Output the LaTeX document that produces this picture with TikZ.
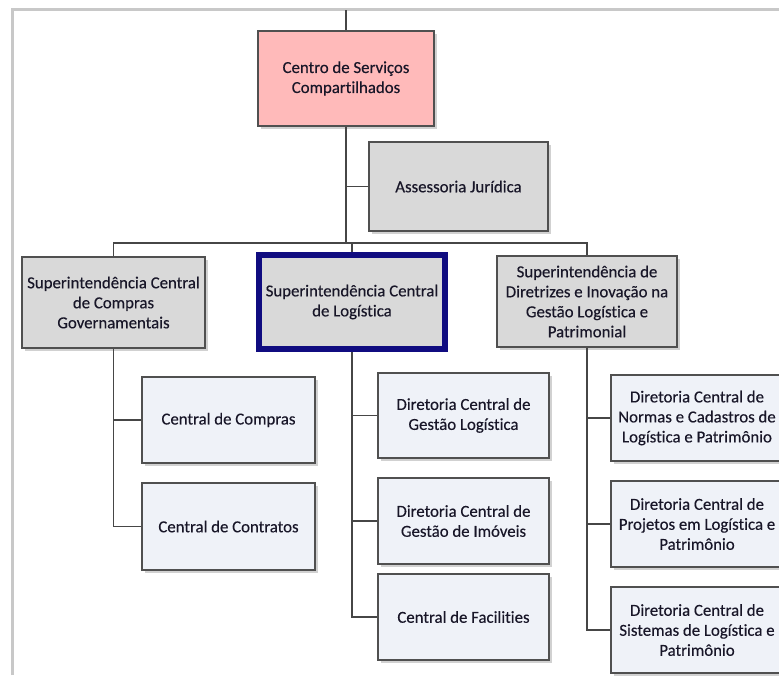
\documentclass[tikz,border=0pt]{standalone}
\usepackage{fontspec}
\setmainfont{Carlito}[Ligatures=NoCommon, FakeBold=0.3]
\usetikzlibrary{shadows}
\definecolor{boxline}{RGB}{80,80,80}
\definecolor{wire}{RGB}{70,70,70}
\definecolor{txt}{RGB}{24,22,40}
\definecolor{pinkfill}{RGB}{255,186,186}
\definecolor{greyfill}{RGB}{217,217,217}
\definecolor{palefill}{RGB}{239,242,248}
\definecolor{navy}{RGB}{16,12,128}
\definecolor{pageline}{RGB}{200,200,200}
\tikzset{
  orgbox/.style={draw=boxline, line width=1.4pt, align=center, text=txt,
    inner sep=0pt, font=\fontsize{16.8}{20}\selectfont,
    drop shadow={shadow xshift=2.5pt, shadow yshift=-2.5pt, fill=black, opacity=0.18}},
  headbox/.style={orgbox, fill=pinkfill},
  unitbox/.style={orgbox, fill=greyfill},
  subbox/.style={orgbox, fill=palefill},
  focusbox/.style={orgbox, fill=greyfill, draw=navy, line width=6pt},
  link/.style={draw=wire, line width=1.4pt},
  sheet/.style={draw=pageline, line width=2.2pt}
}
\begin{document}
\begin{tikzpicture}[x=1pt, y=-1pt]
  \useasboundingbox (0,0) rectangle (779,675);
  \clip (0,0) rectangle (779,675);

  % page frame
  \draw[sheet] (12.5,675) -- (12.5,9.5) -- (779,9.5);

  % top level and staff unit
  \node[headbox, minimum width=176pt, minimum height=95pt] (csc) at (346,78.5)
    {Centro de Serviços\\Compartilhados};
  \node[unitbox, minimum width=179pt, minimum height=89pt] (aj) at (458.5,186.5)
    {Assessoria Jurídica};

  % superintendencies
  \node[unitbox, minimum width=183pt, minimum height=91pt] (scg) at (113.5,302.5)
    {Superintendência Central\\de Compras\\Governamentais};
  \node[focusbox, minimum width=186pt, minimum height=94pt] (scl) at (352,302)
    {Superintendência Central\\de Logística};
  \node[unitbox, minimum width=180pt, minimum height=91pt] (sdi) at (587,301.5)
    {Superintendência de\\Diretrizes e Inovação na\\Gestão Logística e\\Patrimonial};

  % units under compras
  \node[subbox, minimum width=173pt, minimum height=86pt] (cc) at (228.5,420)
    {Central de Compras};
  \node[subbox, minimum width=173pt, minimum height=87pt] (cct) at (228.5,526.5)
    {Central de Contratos};

  % units under logistica
  \node[subbox, minimum width=171pt, minimum height=85pt] (dgl) at (463.5,415.5)
    {Diretoria Central de\\Gestão Logística};
  \node[subbox, minimum width=171pt, minimum height=86pt] (dgi) at (463.5,521)
    {Diretoria Central de\\Gestão de Imóveis};
  \node[subbox, minimum width=171pt, minimum height=86pt] (cf) at (463.5,617)
    {Central de Facilities};

  % units under diretrizes
  \node[subbox, minimum width=172pt, minimum height=86pt] (dnc) at (697,418)
    {Diretoria Central de\\Normas e Cadastros de\\Logística e Patrimônio};
  \node[subbox, minimum width=172pt, minimum height=86pt] (dpl) at (697,524)
    {Diretoria Central de\\Projetos em Logística e\\Patrimônio};
  \node[subbox, minimum width=172pt, minimum height=86pt] (dsl) at (697,630)
    {Diretoria Central de\\Sistemas de Logística e\\Patrimônio};

  % connectors
  \coordinate (up) at (346,10);
  \coordinate (bus) at (346,243);
  \coordinate (busL) at (113.5,243);
  \coordinate (busR) at (587,243);

  \draw[link] (up) -- (csc.north);
  \draw[link] (csc.south) -- (bus);
  \draw[link] (aj.west) -- (aj.west -| bus);
  \draw[link] (scg.north) -- (busL) -- (busR) -- (sdi.north);
  \draw[link] (scl.north) -- (scl.north |- bus);

  \draw[link] (scg.south) |- (cct.west);
  \draw[link] (cc.west) -- (cc.west -| scg.south);

  \draw[link] (scl.south) |- (cf.west);
  \draw[link] (dgl.west) -- (dgl.west -| scl.south);
  \draw[link] (dgi.west) -- (dgi.west -| scl.south);

  \draw[link] (sdi.south) |- (dsl.west);
  \draw[link] (dnc.west) -- (dnc.west -| sdi.south);
  \draw[link] (dpl.west) -- (dpl.west -| sdi.south);
\end{tikzpicture}
\end{document}
